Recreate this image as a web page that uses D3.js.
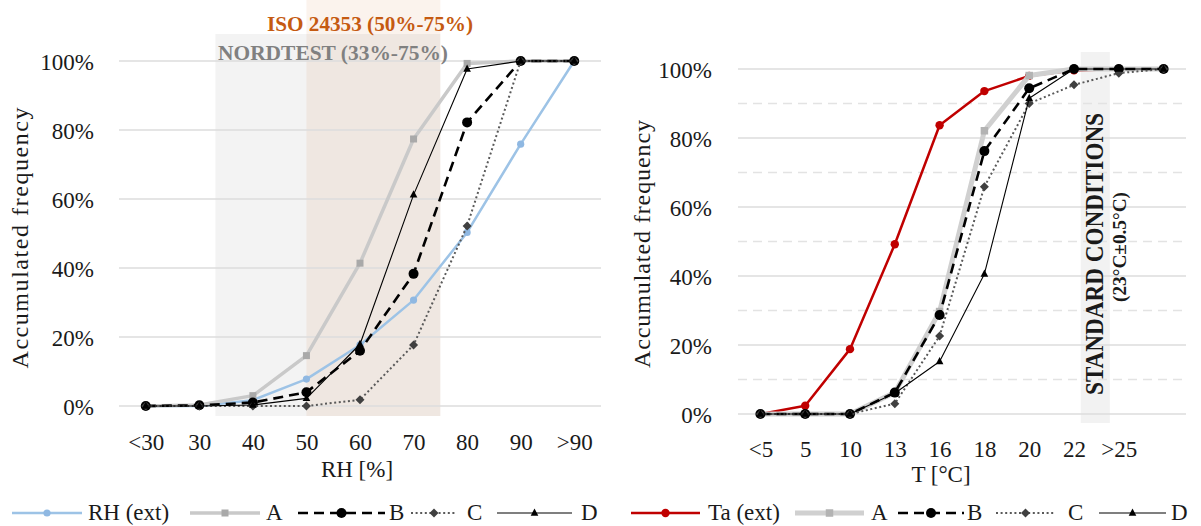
<!DOCTYPE html>
<html>
<head>
<meta charset="utf-8">
<script src="https://cdn.jsdelivr.net/npm/d3@7"></script>
<style>
  html, body { margin: 0; padding: 0; background: #fff; }
  svg { display: block; }
  text { font-family: "Liberation Serif", "DejaVu Serif", serif; fill: #1a1a1a; }
</style>
</head>
<body>
<svg id="chart" width="1201" height="526"></svg>
<script>
// ---- Relative humidity panel ----
const rhCats = ["<30", "30", "40", "50", "60", "70", "80", "90", ">90"];
const rhExt = [0, 0, 1.7, 7.8, 17.7, 30.7, 50.3, 75.9, 100];
const rhA   = [0, 0.3, 3.0, 14.6, 41.4, 77.4, 99.3, 100, 100];
const rhB   = [0, 0.2, 1.0, 4.0, 16.0, 38.3, 82.2, 100, 100];
const rhC   = [0, 0, 0, 0, 1.8, 17.7, 52.2, 100, 100];
const rhD   = [0, 0, 0.3, 2.2, 17.9, 61.2, 97.7, 100, 100];

// recommended RH ranges (% RH)
const nordtestRange = [33, 75];
const isoRange = [50, 75];

// ---- Temperature panel ----
const tCats = ["<5", "5", "10", "13", "16", "18", "20", "22", ">25", ""];
const taExt = [0, 2.4, 18.8, 49.2, 83.7, 93.6, 98.0, 99.6, 100, 100];
const tA    = [0, 0, 0, 6.2, 29.7, 82.1, 98.1, 100, 100, 100];
const tB    = [0, 0, 0, 6.2, 28.7, 76.2, 94.4, 100, 100, 100];
const tC    = [0, 0, 0, 3.0, 22.6, 65.9, 90.0, 95.4, 98.8, 100];
const tD    = [0, 0, 0, 6.0, 15.2, 40.6, 91.5, 100, 100, 100];

// standard conditions band, as fractional category positions
const stdBand = [7.15, 7.8];

const yTicks = [0, 20, 40, 60, 80, 100];
const yMinor = [10, 30, 50, 70, 90];

const svg = d3.select("#chart");

// series styling
const styles = {
  extRH: { stroke: "#9dc3e6", width: 2.5, dash: null, marker: "circle", mfill: "#8fb8e2", msize: 3.6 },
  extT:  { stroke: "#c00000", width: 2.5, dash: null, marker: "circle", mfill: "#c00000", msize: 4.2 },
  A:     { stroke: "#c9c9c9", width: 3.5, dash: null, marker: "square", mfill: "#a9a9a9", msize: 7 },
  AT:    { stroke: "#d0d0d0", width: 5, dash: null, marker: "square", mfill: "#b3b3b3", msize: 7.5 },
  B:     { stroke: "#000", width: 2.6, dash: "10,6", marker: "circle", mfill: "#000", msize: 5 },
  C:     { stroke: "#595959", width: 2, dash: "2,2.6", marker: "diamond", mfill: "#404040", msize: 4.5 },
  D:     { stroke: "#000", width: 1.1, dash: null, marker: "triangle", mfill: "#000", msize: 4.5 }
};

function drawMarker(g, x, y, st) {
  const s = st.msize;
  if (st.marker === "circle") {
    g.append("circle").attr("cx", x).attr("cy", y).attr("r", s).attr("fill", st.mfill);
  } else if (st.marker === "square") {
    g.append("rect").attr("x", x - s / 2).attr("y", y - s / 2).attr("width", s).attr("height", s).attr("fill", st.mfill);
  } else if (st.marker === "diamond") {
    g.append("path").attr("d", `M${x},${y - s}L${x + s},${y}L${x},${y + s}L${x - s},${y}Z`).attr("fill", st.mfill);
  } else if (st.marker === "triangle") {
    g.append("path").attr("d", `M${x},${y - s}L${x + s * 0.85},${y + s * 0.6}L${x - s * 0.85},${y + s * 0.6}Z`).attr("fill", st.mfill);
  }
}

function drawPanel(p) {
  const g = svg.append("g");
  const x = d3.scalePoint().domain(p.cats).range([p.left, p.right]).padding(0.5);
  const y = d3.scaleLinear().domain([0, 100]).range([p.bottom, p.top]);
  const step = x.step();
  const posX = i => x(p.cats[0]) + i * step;

  // background bands
  p.bands.forEach(b => {
    g.append("rect")
      .attr("x", posX(b.from)).attr("width", posX(b.to) - posX(b.from))
      .attr("y", b.y0).attr("height", b.y1 - b.y0)
      .attr("fill", b.fill);
  });

  // gridlines
  if (p.minor) {
    g.selectAll(".minor").data(yMinor).join("line")
      .attr("x1", p.left).attr("x2", p.right)
      .attr("y1", d => y(d)).attr("y2", d => y(d))
      .attr("stroke", "#e3e3e3").attr("stroke-width", 1.5).attr("stroke-dasharray", "9,6");
  }
  g.selectAll(".major").data(yTicks).join("line")
    .attr("x1", p.left).attr("x2", p.right)
    .attr("y1", d => y(d)).attr("y2", d => y(d))
    .attr("stroke", "#dcdcdc").attr("stroke-width", 1.5);

  // axes labels via d3 axes, domain and ticks hidden
  const yAxis = g.append("g").attr("transform", `translate(${p.left},0)`)
    .call(d3.axisLeft(y).tickValues(yTicks).tickFormat(d => d + "%").tickSize(0).tickPadding(p.yPad));
  yAxis.select(".domain").remove();
  yAxis.selectAll("text").attr("font-size", 23).attr("font-family", "Liberation Serif").attr("fill", "#1a1a1a").attr("dy", "0.35em");

  const xAxis = g.append("g").attr("transform", `translate(0,${p.bottom})`)
    .call(d3.axisBottom(x).tickSize(0).tickPadding(0));
  xAxis.select(".domain").remove();
  xAxis.selectAll("text").attr("font-size", 23).attr("font-family", "Liberation Serif").attr("fill", "#1a1a1a")
    .attr("y", p.xTickBase - p.bottom).attr("dy", 0);

  // axis titles
  g.append("text").attr("x", (p.left + p.right) / 2 + p.xTitleDx).attr("y", p.xTitleBase)
    .attr("text-anchor", "middle").attr("font-size", 23).text(p.xTitle);
  g.append("text")
    .attr("transform", `translate(${p.yTitleX},${p.yTitleY}) rotate(-90)`)
    .attr("text-anchor", "middle").attr("font-size", 24)
    .attr("textLength", p.yTitleLen).attr("lengthAdjust", "spacing")
    .text("Accumulated frequency");

  // series
  const line = d3.line().x((d, i) => x(p.cats[i])).y(d => y(d));
  p.series.forEach(s => {
    const st = styles[s.style];
    g.append("path").attr("d", line(s.values))
      .attr("fill", "none").attr("stroke", st.stroke).attr("stroke-width", st.width)
      .attr("stroke-dasharray", st.dash).attr("stroke-linejoin", "round");
    const mg = g.append("g");
    s.values.forEach((v, i) => drawMarker(mg, x(p.cats[i]), y(v), st));
  });

  // legend
  const lg = svg.append("g");
  p.legend.forEach(item => {
    const st = styles[item.style];
    lg.append("line").attr("x1", item.x0).attr("x2", item.x1).attr("y1", p.legendY).attr("y2", p.legendY)
      .attr("stroke", st.stroke).attr("stroke-width", st.width).attr("stroke-dasharray", st.dash);
    drawMarker(lg, (item.x0 + item.x1) / 2, p.legendY, st);
    lg.append("text").attr("x", item.tx).attr("y", p.legendY + 6.5).attr("font-size", 23).text(item.label);
  });

  return { g, x, y, posX };
}

// RH value -> fractional category position (30 % sits on position 1, 10 % per step)
const rhPos = v => 1 + (v - 30) / 10;

const left = drawPanel({
  cats: rhCats, left: 119, right: 601, top: 61, bottom: 406,
  yPad: 25, xTickBase: 450, xTitleBase: 477, xTitleDx: -3, xTitle: "RH [%]",
  yTitleX: 28, yTitleY: 238, yTitleLen: 261, minor: false,
  bands: [
    { from: rhPos(nordtestRange[0]), to: rhPos(nordtestRange[1]), y0: 34, y1: 416, fill: "#f3f3f3" },
    { from: rhPos(isoRange[0]), to: rhPos(isoRange[1]), y0: 0, y1: 416, fill: "rgba(197,90,17,0.075)" }
  ],
  series: [
    { values: rhExt, style: "extRH" },
    { values: rhA, style: "A" },
    { values: rhB, style: "B" },
    { values: rhC, style: "C" },
    { values: rhD, style: "D" }
  ],
  legendY: 513,
  legend: [
    { label: "RH (ext)", style: "extRH", x0: 12, x1: 82, tx: 88 },
    { label: "A", style: "A", x0: 190, x1: 260, tx: 266 },
    { label: "B", style: "B", x0: 298, x1: 385, tx: 389 },
    { label: "C", style: "C", x0: 411, x1: 457, tx: 467 },
    { label: "D", style: "D", x0: 497, x1: 572, tx: 581 }
  ]
});

// annotations for the RH ranges
svg.append("text").attr("x", 267).attr("y", 31).attr("font-size", 22).attr("font-weight", "bold")
  .attr("textLength", 206).attr("lengthAdjust", "spacingAndGlyphs")
  .style("fill", "#c55a11").text("ISO 24353 (50%-75%)");
svg.append("text").attr("x", 218).attr("y", 60).attr("font-size", 22).attr("font-weight", "bold")
  .attr("textLength", 230).attr("lengthAdjust", "spacingAndGlyphs")
  .style("fill", "#808080").text("NORDTEST (33%-75%)");

const right = drawPanel({
  cats: tCats, left: 738, right: 1186, top: 69, bottom: 414,
  yPad: 26, xTickBase: 457, xTitleBase: 482, xTitleDx: -21, xTitle: "T [°C]",
  yTitleX: 650, yTitleY: 244, yTitleLen: 248, minor: true,
  bands: [
    { from: stdBand[0], to: stdBand[1], y0: 52, y1: 423, fill: "#f2f2f2" }
  ],
  series: [
    { values: taExt, style: "extT" },
    { values: tA, style: "AT" },
    { values: tB, style: "B" },
    { values: tC, style: "C" },
    { values: tD, style: "D" }
  ],
  legendY: 513,
  legend: [
    { label: "Ta (ext)", style: "extT", x0: 631, x1: 700, tx: 708 },
    { label: "A", style: "AT", x0: 795, x1: 864, tx: 871 },
    { label: "B", style: "B", x0: 898, x1: 964, tx: 967 },
    { label: "C", style: "C", x0: 996, x1: 1055, tx: 1068 },
    { label: "D", style: "D", x0: 1099, x1: 1166, tx: 1171 }
  ]
});

// standard conditions label inside the band
const bandMid = (right.posX(stdBand[0]) + right.posX(stdBand[1])) / 2;
svg.append("text")
  .attr("transform", `translate(${bandMid + 8},254) rotate(-90)`)
  .attr("text-anchor", "middle").attr("font-size", 25).attr("font-weight", "bold")
  .attr("textLength", 282).attr("lengthAdjust", "spacingAndGlyphs")
  .text("STANDARD CONDITIONS");
svg.append("text")
  .attr("transform", `translate(${bandMid + 31},247) rotate(-90)`)
  .attr("text-anchor", "middle").attr("font-size", 19).attr("font-weight", "bold")
  .attr("textLength", 110).attr("lengthAdjust", "spacingAndGlyphs")
  .text("(23°C±0.5°C)");
</script>
</body>
</html>
